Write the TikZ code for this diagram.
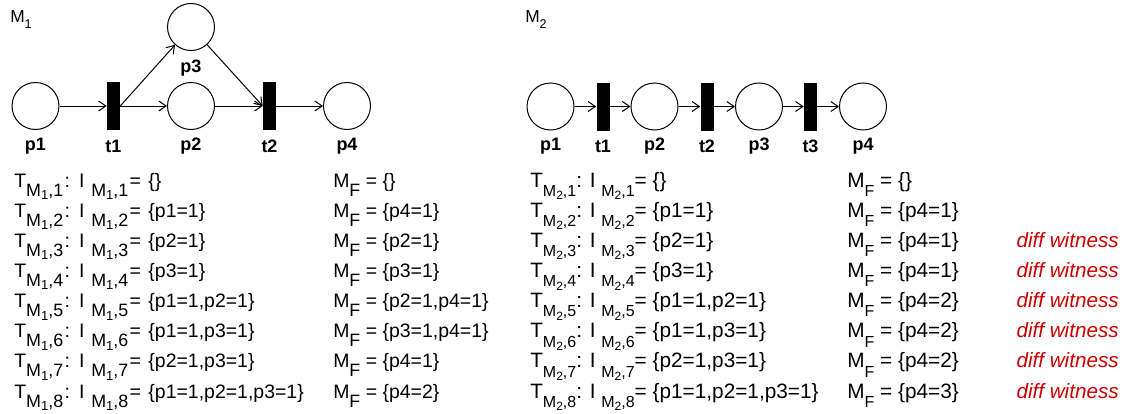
\documentclass[tikz,border=0pt]{standalone}
\usepackage{fontspec}
\setmainfont{Liberation Sans}
\usetikzlibrary{arrows.meta}
\definecolor{wred}{RGB}{204,0,0}
% subscripts, table M1
\newcommand\SBa[1]{\raisebox{-6.8pt}{\fontsize{13.4}{14}\selectfont #1}}
\newcommand\SSBa[1]{\raisebox{-2.6pt}{\fontsize{9.8}{10}\selectfont #1}}
% subscripts, table M2
\newcommand\SBb[1]{\raisebox{-7pt}{\fontsize{12}{13}\selectfont #1}}
\newcommand\SSBb[1]{\raisebox{-2.5pt}{\fontsize{9}{10}\selectfont #1}}
\newcommand\TIa[2]{T\SBa{M\SSBa{#1},#2}\kern1pt: \kern1.5pt I \kern1pt\SBa{M\SSBa{#1},#2}\kern1pt= \kern1.5pt}
\newcommand\TIb[2]{T\SBb{M\SSBb{#1},#2}: I \SBb{M\SSBb{#1},#2}= }
\newcommand\MFa{M\SBa{F} = }
\newcommand\MFb{M\SBb{F} = }
\begin{document}
\begin{tikzpicture}[x=0.75pt,y=-0.75pt,
  place/.style={circle,draw,line width=0.75pt,minimum size=35.25pt,inner sep=0pt},
  trans/.style={fill=black,draw=none,minimum width=9.75pt,minimum height=36pt,inner sep=0pt},
  lbl/.style={font=\bfseries\fontsize{13.5}{15}\selectfont,inner sep=0pt},
  arc/.style={line width=0.75pt,-{Straight Barb[length=5.5pt,width=7.5pt]}},
  rowa/.style={anchor=base west,inner sep=0pt,font=\fontsize{14.6}{17}\selectfont},
  rowb/.style={anchor=base west,inner sep=0pt,font=\fontsize{15.6}{18}\selectfont},
  wit/.style={anchor=base east,inner sep=0pt,text=wred,font=\itshape\fontsize{15.5}{18}\selectfont}]
\useasboundingbox (0,0) rectangle (1125,414);
% ---- M1 ----
\node[anchor=base west,inner sep=0pt,font=\fontsize{13}{15}\selectfont] (m1) at (10,22) {M\raisebox{-4.5pt}{\fontsize{9.5}{10}\selectfont 1}};
\node[place] (a1) at (35.5,106) {};
\node[trans] (at1) at (113.5,106) {};
\node[place] (a2) at (191,106) {};
\node[place] (a3) at (191,27) {};
\node[trans] (at2) at (269.5,106) {};
\node[place] (a4) at (347,106) {};
\node[lbl] at (35.5,146) {p1};
\node[lbl] at (113.5,146) {t1};
\node[lbl] at (191,146) {p2};
\node[lbl] at (191,68) {p3};
\node[lbl] at (269.5,146) {t2};
\node[lbl] at (347,146) {p4};
\draw[arc] (a1) -- (at1);
\draw[arc] (at1) -- (a2);
\draw[arc] (at1.east) -- (a3);
\draw[arc] (a3) -- (at2.west);
\draw[arc] (a2) -- (at2);
\draw[arc] (at2) -- (a4);
% ---- M2 ----
\node[anchor=base west,inner sep=0pt,font=\fontsize{13}{15}\selectfont] (m2) at (525,22) {M\raisebox{-4.5pt}{\fontsize{9.5}{10}\selectfont 2}};
\node[place] (b1) at (550.5,106.5) {};
\node[trans] (bt1) at (603,106.5) {};
\node[place] (b2) at (654.5,106.5) {};
\node[trans] (bt2) at (707,106.5) {};
\node[place] (b3) at (759,106.5) {};
\node[trans] (bt3) at (810.5,106.5) {};
\node[place] (b4) at (863,106.5) {};
\node[lbl] at (550.5,146) {p1};
\node[lbl] at (603,146) {t1};
\node[lbl] at (654.5,146) {p2};
\node[lbl] at (707,146) {t2};
\node[lbl] at (759,146) {p3};
\node[lbl] at (810.5,146) {t3};
\node[lbl] at (863,146) {p4};
\draw[arc] (b1) -- (bt1);
\draw[arc] (bt1) -- (b2);
\draw[arc] (b2) -- (bt2);
\draw[arc] (bt2) -- (b3);
\draw[arc] (b3) -- (bt3);
\draw[arc] (bt3) -- (b4);
% ---- table M1 ----
\node[rowa] (r11) at (14,187) {\TIa{1}{1}\{\}};
\node[rowa] (r12) at (14,217.15) {\TIa{1}{2}\{p1=1\}};
\node[rowa] (r13) at (14,247.3) {\TIa{1}{3}\{p2=1\}};
\node[rowa] (r14) at (14,277.45) {\TIa{1}{4}\{p3=1\}};
\node[rowa] (r15) at (14,307.6) {\TIa{1}{5}\{p1=1,p2=1\}};
\node[rowa] (r16) at (14,337.75) {\TIa{1}{6}\{p1=1,p3=1\}};
\node[rowa] (r17) at (14,367.9) {\TIa{1}{7}\{p2=1,p3=1\}};
\node[rowa] (r18) at (14,398) {\TIa{1}{8}\{p1=1,p2=1,p3=1\}};
\node[rowa] (f11) at (333,187) {\MFa\{\}};
\node[rowa] (f12) at (333,217.15) {\MFa\{p4=1\}};
\node[rowa] (f13) at (333,247.3) {\MFa\{p2=1\}};
\node[rowa] (f14) at (333,277.45) {\MFa\{p3=1\}};
\node[rowa] (f15) at (333,307.6) {\MFa\{p2=1,p4=1\}};
\node[rowa] (f16) at (333,337.75) {\MFa\{p3=1,p4=1\}};
\node[rowa] (f17) at (333,367.9) {\MFa\{p4=1\}};
\node[rowa] (f18) at (333,398) {\MFa\{p4=2\}};
% ---- table M2 ----
\node[rowb] (r21) at (530,187) {\TIb{2}{1}\{\}};
\node[rowb] (r22) at (530,217.15) {\TIb{2}{2}\{p1=1\}};
\node[rowb] (r23) at (530,247.3) {\TIb{2}{3}\{p2=1\}};
\node[rowb] (r24) at (530,277.45) {\TIb{2}{4}\{p3=1\}};
\node[rowb] (r25) at (530,307.6) {\TIb{2}{5}\{p1=1,p2=1\}};
\node[rowb] (r26) at (530,337.75) {\TIb{2}{6}\{p1=1,p3=1\}};
\node[rowb] (r27) at (530,367.9) {\TIb{2}{7}\{p2=1,p3=1\}};
\node[rowb] (r28) at (530,398) {\TIb{2}{8}\{p1=1,p2=1,p3=1\}};
\node[rowb] (f21) at (847,187) {\MFb\{\}};
\node[rowb] (f22) at (847,217.15) {\MFb\{p4=1\}};
\node[rowb] (f23) at (847,247.3) {\MFb\{p4=1\}};
\node[rowb] (f24) at (847,277.45) {\MFb\{p4=1\}};
\node[rowb] (f25) at (847,307.6) {\MFb\{p4=2\}};
\node[rowb] (f26) at (847,337.75) {\MFb\{p4=2\}};
\node[rowb] (f27) at (847,367.9) {\MFb\{p4=2\}};
\node[rowb] (f28) at (847,398) {\MFb\{p4=3\}};
\node[wit] (w3) at (1119,247.3) {diff witness};
\node[wit] (w4) at (1119,277.45) {diff witness};
\node[wit] (w5) at (1119,307.6) {diff witness};
\node[wit] (w6) at (1119,337.75) {diff witness};
\node[wit] (w7) at (1119,367.9) {diff witness};
\node[wit] (w8) at (1119,398) {diff witness};
\end{tikzpicture}
\end{document}
